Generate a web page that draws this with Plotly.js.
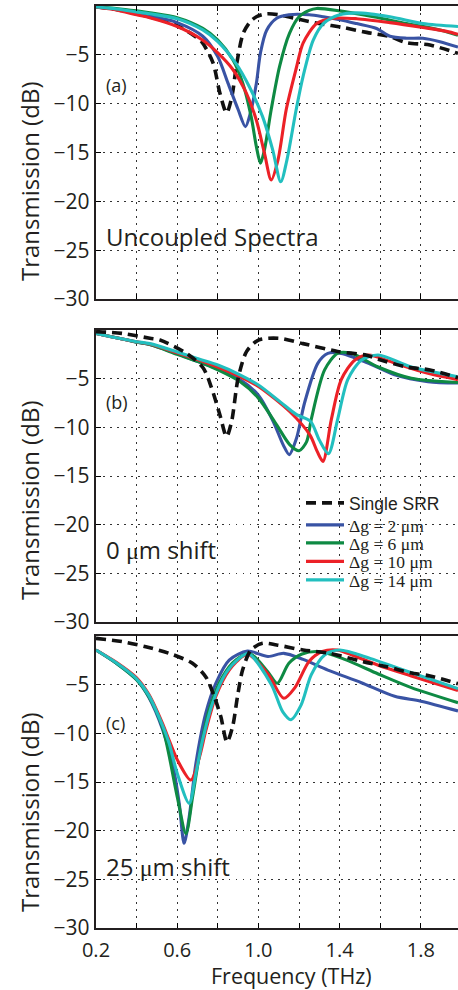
<!DOCTYPE html>
<html><head><meta charset="utf-8">
<script src="https://cdn.plot.ly/plotly-3.0.1.min.js"></script>
<style>html,body{margin:0;padding:0;overflow:hidden;background:#fff}</style>
</head><body><div id="chart" style="width:458px;height:990px"></div>
<script>
// ---------- tick labels / categories ----------
const FREQ_TICKS = [0.2, 0.4, 0.6, 0.8, 1.0, 1.2, 1.4, 1.6, 1.8];
const FREQ_LABELS = ['0.2', '', '0.6', '', '1.0', '', '1.4', '', '1.8'];
const DB_TICKS = [-30, -25, -20, -15, -10, -5];
const DB_LABELS = ['\u221230', '\u221225', '\u221220', '\u221215', '\u221210', '\u22125'];
const SERIES = ['Single SRR', '\u0394g = 2 \u03bcm', '\u0394g = 6 \u03bcm', '\u0394g = 10 \u03bcm', '\u0394g = 14 \u03bcm'];
const PANEL_TAGS = ['(a)', '(b)', '(c)'];
const PANEL_NOTES = ['Uncoupled Spectra', '0 \u03bcm shift', '25 \u03bcm shift'];

// ---------- panel (a): uncoupled spectra ----------
const a_srr_f = [0.2, 0.3, 0.4, 0.5, 0.6, 0.68, 0.72, 0.776, 0.81, 0.843, 0.868, 0.894, 0.925, 0.96, 0.99, 1.04, 1.1, 1.2, 1.3, 1.416, 1.533, 1.648, 1.73, 1.845, 1.983];
const a_srr_t = [-0.1, -0.35, -0.8, -1.3, -2.0, -3.0, -3.65, -5.8, -8.9, -10.95, -9.4, -5.8, -2.8, -1.6, -1.1, -0.8, -0.9, -1.36, -1.8, -2.2, -2.7, -3.14, -3.75, -4.0, -4.85];
const a_g2_f = [0.2, 0.3, 0.4, 0.465, 0.6, 0.726, 0.8, 0.85, 0.9, 0.936, 0.96, 0.99, 1.01, 1.04, 1.09, 1.15, 1.25, 1.32, 1.4, 1.484, 1.582, 1.648, 1.73, 1.81, 1.894, 1.983];
const a_g2_t = [-0.1, -0.35, -0.8, -1.0, -1.7, -3.1, -5.2, -7.9, -10.6, -12.35, -11.0, -7.9, -4.8, -2.5, -1.26, -0.9, -0.9, -1.1, -1.4, -1.8, -2.3, -3.1, -3.3, -3.3, -3.65, -4.2];
const a_g6_f = [0.2, 0.3, 0.4, 0.465, 0.6, 0.726, 0.8, 0.874, 0.923, 0.964, 0.99, 1.01, 1.03, 1.063, 1.104, 1.153, 1.2, 1.25, 1.287, 1.4, 1.566, 1.73, 1.894, 1.983];
const a_g6_t = [-0.1, -0.25, -0.5, -0.7, -1.2, -2.3, -3.5, -5.5, -7.9, -11.3, -14.4, -16.1, -14.7, -10.6, -6.2, -2.8, -1.1, -0.45, -0.25, -0.5, -1.1, -1.8, -2.45, -3.0];
const a_g10_f = [0.2, 0.3, 0.4, 0.465, 0.6, 0.726, 0.8, 0.874, 0.94, 0.99, 1.03, 1.063, 1.096, 1.137, 1.186, 1.22, 1.287, 1.369, 1.484, 1.648, 1.81, 1.927, 1.983];
const a_g10_t = [-0.1, -0.4, -0.9, -1.2, -2.1, -3.5, -4.8, -6.5, -8.9, -11.7, -15.1, -17.8, -15.8, -10.6, -6.4, -3.8, -1.8, -1.26, -1.3, -1.7, -2.2, -2.6, -2.9];
const a_g14_f = [0.2, 0.3, 0.4, 0.465, 0.6, 0.726, 0.8, 0.89, 0.956, 1.02, 1.07, 1.11, 1.14, 1.186, 1.22, 1.27, 1.32, 1.4, 1.484, 1.648, 1.81, 1.983];
const a_g14_t = [-0.1, -0.3, -0.6, -0.8, -1.3, -2.45, -3.65, -5.9, -8.3, -11.3, -14.7, -18.0, -15.8, -10.6, -7.2, -3.5, -1.8, -0.9, -0.7, -1.1, -1.8, -2.1];

// ---------- panel (b): 0 um shift ----------
const b_srr_f = [0.2, 0.33, 0.465, 0.515, 0.646, 0.728, 0.77, 0.81, 0.843, 0.868, 0.9, 0.942, 1.0, 1.1, 1.22, 1.39, 1.533, 1.59, 1.73, 1.845, 1.983];
const b_srr_t = [-0.17, -0.35, -0.85, -1.03, -2.4, -3.9, -6.0, -8.7, -10.95, -9.4, -4.96, -2.2, -1.03, -0.85, -1.4, -2.2, -2.6, -3.0, -3.8, -4.1, -4.9];
const b_g2_f = [0.2, 0.3, 0.4, 0.465, 0.6, 0.71, 0.8, 0.909, 1.0, 1.073, 1.122, 1.152, 1.188, 1.227, 1.293, 1.342, 1.408, 1.54, 1.671, 1.835, 1.983];
const b_g2_t = [-0.35, -0.8, -1.25, -1.5, -2.45, -3.3, -4.0, -5.1, -6.7, -9.4, -11.8, -12.8, -11.1, -7.5, -3.4, -2.4, -2.4, -3.4, -4.6, -5.3, -5.45];
const b_g6_f = [0.2, 0.3, 0.4, 0.465, 0.6, 0.71, 0.8, 0.909, 1.0, 1.09, 1.155, 1.2, 1.237, 1.26, 1.326, 1.39, 1.457, 1.59, 1.753, 1.983];
const b_g6_t = [-0.35, -0.8, -1.25, -1.5, -2.5, -3.3, -4.1, -5.3, -7.0, -9.75, -11.8, -12.4, -11.5, -9.2, -4.1, -2.4, -2.4, -3.8, -4.96, -5.4];
const b_g10_f = [0.2, 0.3, 0.4, 0.465, 0.6, 0.71, 0.8, 0.909, 1.0, 1.155, 1.254, 1.29, 1.318, 1.359, 1.408, 1.474, 1.54, 1.671, 1.835, 1.983];
const b_g10_t = [-0.35, -0.8, -1.2, -1.45, -2.35, -3.1, -3.8, -4.8, -5.8, -8.4, -10.8, -12.5, -13.5, -9.2, -5.1, -3.1, -2.57, -3.4, -4.45, -5.1];
const b_g14_f = [0.2, 0.3, 0.4, 0.465, 0.6, 0.71, 0.8, 0.909, 1.0, 1.106, 1.188, 1.257, 1.3, 1.345, 1.39, 1.44, 1.507, 1.59, 1.753, 1.983];
const b_g14_t = [-0.35, -0.8, -1.2, -1.4, -2.25, -3.0, -3.6, -4.6, -5.65, -7.36, -8.7, -9.4, -11.3, -12.7, -9.2, -5.1, -3.1, -2.57, -3.8, -4.8];

// ---------- panel (c): 25 um shift ----------
const c_srr_f = [0.2, 0.33, 0.445, 0.56, 0.675, 0.741, 0.782, 0.815, 0.845, 0.873, 0.897, 0.922, 0.963, 1.02, 1.09, 1.22, 1.352, 1.516, 1.632, 1.747, 1.845, 1.983];
const c_srr_t = [-0.24, -0.58, -1.1, -1.78, -2.8, -4.2, -6.2, -8.3, -10.9, -9.3, -6.2, -3.5, -1.44, -0.75, -0.92, -1.44, -1.78, -2.64, -3.15, -3.77, -4.1, -4.9];
const c_g2_f = [0.2, 0.3, 0.4, 0.46, 0.528, 0.577, 0.61, 0.634, 0.659, 0.692, 0.741, 0.79, 0.856, 0.946, 1.047, 1.125, 1.22, 1.342, 1.507, 1.671, 1.8, 1.983];
const c_g2_t = [-1.44, -2.8, -4.5, -6.3, -9.6, -13.1, -17.2, -21.3, -18.6, -13.1, -7.9, -4.86, -2.47, -1.55, -2.1, -1.78, -2.4, -3.5, -4.8, -6.2, -6.7, -7.7];
const c_g6_f = [0.2, 0.3, 0.4, 0.46, 0.528, 0.6, 0.643, 0.676, 0.708, 0.757, 0.823, 0.889, 0.96, 1.047, 1.093, 1.15, 1.215, 1.3, 1.425, 1.59, 1.753, 1.983];
const c_g6_t = [-1.44, -2.8, -4.5, -6.2, -9.4, -16.5, -20.3, -16.5, -12.4, -7.6, -4.2, -2.47, -1.85, -3.7, -4.86, -2.8, -1.85, -1.6, -2.4, -3.9, -5.3, -6.85];
const c_g10_f = [0.2, 0.3, 0.4, 0.46, 0.528, 0.56, 0.6, 0.667, 0.71, 0.741, 0.79, 0.856, 0.922, 0.95, 1.047, 1.125, 1.18, 1.25, 1.315, 1.39, 1.467, 1.59, 1.753, 1.983];
const c_g10_t = [-1.44, -2.7, -4.3, -6.0, -9.0, -10.7, -12.7, -14.8, -12.4, -9.7, -6.2, -3.5, -2.1, -1.9, -3.9, -6.4, -5.3, -2.6, -1.6, -1.45, -2.0, -3.0, -4.1, -5.6];
const c_g14_f = [0.2, 0.3, 0.4, 0.46, 0.528, 0.56, 0.6, 0.659, 0.692, 0.725, 0.774, 0.84, 0.905, 0.95, 1.064, 1.12, 1.16, 1.21, 1.26, 1.326, 1.4, 1.55, 1.714, 1.983];
const c_g14_t = [-1.44, -2.75, -4.4, -6.1, -9.2, -11.0, -14.1, -17.2, -14.1, -10.7, -6.9, -3.8, -2.3, -1.8, -5.0, -7.8, -8.6, -7.1, -4.0, -1.95, -1.44, -2.3, -3.5, -5.4];

// ---------- styling ----------
const COLORS = ['#111111', '#3953a4', '#0e8a43', '#ec2127', '#22bfbf'];
const TXT = '#231f20';
const SANS = 'Open Sans, Liberation Sans, sans-serif';
const SERIF = 'Liberation Serif, DejaVu Serif, serif';

// figure geometry (pixels)
const W = 458, H = 990, ML = 96, MR = 0, MT = 6, MB = 62;
const PW = W - ML - MR, PH = H - MT - MB;
const py = p => (H - MB - p) / PH;       // pixel y -> paper
const px = p => (p - ML) / PW;           // pixel x -> paper
const PANELS = [[6, 299], [330, 622], [636, 928]];
const LEGEND_ROWS = [503, 525, 543, 561.5, 580];

const sets = [
  [[a_srr_f, a_srr_t], [a_g2_f, a_g2_t], [a_g6_f, a_g6_t], [a_g10_f, a_g10_t], [a_g14_f, a_g14_t]],
  [[b_srr_f, b_srr_t], [b_g2_f, b_g2_t], [b_g6_f, b_g6_t], [b_g10_f, b_g10_t], [b_g14_f, b_g14_t]],
  [[c_srr_f, c_srr_t], [c_g2_f, c_g2_t], [c_g6_f, c_g6_t], [c_g10_f, c_g10_t], [c_g14_f, c_g14_t]]
];
const legendId = si => si === 0 ? 'legend' : 'legend' + (si + 1);

const traces = [];
sets.forEach((panel, pi) => {
  const order = pi === 0 ? [0, 1, 2, 3, 4] : [1, 2, 3, 4, 0];
  order.forEach(si => {
    const [f, t] = panel[si];
    const isSrr = si === 0;
    traces.push({
      type: 'scatter', mode: 'lines', x: f, y: t, name: SERIES[si],
      xaxis: pi === 0 ? 'x' : 'x' + (pi + 1), yaxis: pi === 0 ? 'y' : 'y' + (pi + 1),
      line: {color: COLORS[si], width: isSrr ? 3.6 : 3.1, dash: isSrr ? '10px,6px' : 'solid', shape: 'spline', smoothing: 0.8},
      showlegend: pi === 1, legend: legendId(si), hoverinfo: 'skip'
    });
  });
});

function xaxis(pi) {
  return {
    domain: [0, 1], range: [0.2, 1.983], anchor: pi === 0 ? 'y' : 'y' + (pi + 1),
    tickmode: 'array', tickvals: FREQ_TICKS,
    ticktext: pi === 2 ? FREQ_LABELS : FREQ_TICKS.map(() => ''),
    ticks: 'inside', ticklen: 5, tickwidth: 1, tickcolor: '#000', ticklabelstandoff: 3,
    showline: true, linecolor: '#231f20', linewidth: 2.2, mirror: 'ticks',
    showgrid: true, gridcolor: '#333', gridwidth: 1, griddash: '1.5px,5.5px',
    zeroline: false, tickfont: {family: SANS, size: 20, color: TXT}, fixedrange: true
  };
}
function yaxis(pi) {
  const d = PANELS[pi];
  return {
    domain: [py(d[1]), py(d[0])], range: [-30, 0], anchor: pi === 0 ? 'x' : 'x' + (pi + 1),
    tickmode: 'array', tickvals: DB_TICKS, ticktext: DB_LABELS,
    ticks: 'inside', ticklen: 5, tickwidth: 1, tickcolor: '#000',
    showline: true, linecolor: '#231f20', linewidth: 2.2, mirror: false,
    showgrid: true, gridcolor: '#333', gridwidth: 1, griddash: '1.5px,5.5px',
    zeroline: false, tickfont: {family: SANS, size: 21, color: TXT}, fixedrange: true
  };
}

const annotations = [];
const titleY = [182, 501, 813];
PANELS.forEach((d, pi) => {
  const xr = pi === 0 ? 'x' : 'x' + (pi + 1), yr = pi === 0 ? 'y' : 'y' + (pi + 1);
  annotations.push({xref: 'paper', yref: 'paper', x: px(29), y: py(titleY[pi]), text: 'Transmission (dB)',
    textangle: -90, showarrow: false, xanchor: 'center', yanchor: 'middle', font: {family: SANS, size: 24, color: TXT}});
  annotations.push({xref: xr, yref: yr, x: 0.24, y: [-8.1, -7.4, -8.9][pi], text: PANEL_TAGS[pi],
    showarrow: false, xanchor: 'left', yanchor: 'middle', font: {family: SANS, size: 18, color: TXT}});
  const note = pi === 0 ? PANEL_NOTES[0] : PANEL_NOTES[pi].replace('\u03bc', '<span style="font-family:Liberation Serif">\u03bc</span>');
  annotations.push({xref: xr, yref: yr, x: 0.24, y: [-23.6, -22.6, -23.7][pi], text: note,
    showarrow: false, xanchor: 'left', yanchor: 'middle', font: {family: SANS, size: 24, color: TXT}});
});
annotations.push({xref: 'paper', yref: 'paper', x: px(291), y: py(975), text: 'Frequency (THz)',
  showarrow: false, xanchor: 'center', yanchor: 'middle', borderpad: 0, font: {family: SANS, size: 21.5, color: TXT}});

const layout = {
  width: W, height: H, margin: {l: ML, r: MR, t: MT, b: MB, pad: 0},
  paper_bgcolor: '#fff', plot_bgcolor: '#fff',
  xaxis: xaxis(0), xaxis2: xaxis(1), xaxis3: xaxis(2),
  yaxis: yaxis(0), yaxis2: yaxis(1), yaxis3: yaxis(2),
  showlegend: true,
  annotations: annotations
};
LEGEND_ROWS.forEach((row, si) => {
  layout[legendId(si)] = {
    x: px(301), y: py(row), xanchor: 'left', yanchor: 'middle', bgcolor: 'rgba(0,0,0,0)',
    borderwidth: 0, itemwidth: 38,
    font: si === 0 ? {family: 'Liberation Sans, Arial, sans-serif', size: 17.5, color: TXT}
                   : {family: SERIF, size: 17.5, color: TXT}
  };
});

Plotly.newPlot('chart', traces, layout, {displayModeBar: false, staticPlot: true});
</script></body></html>
